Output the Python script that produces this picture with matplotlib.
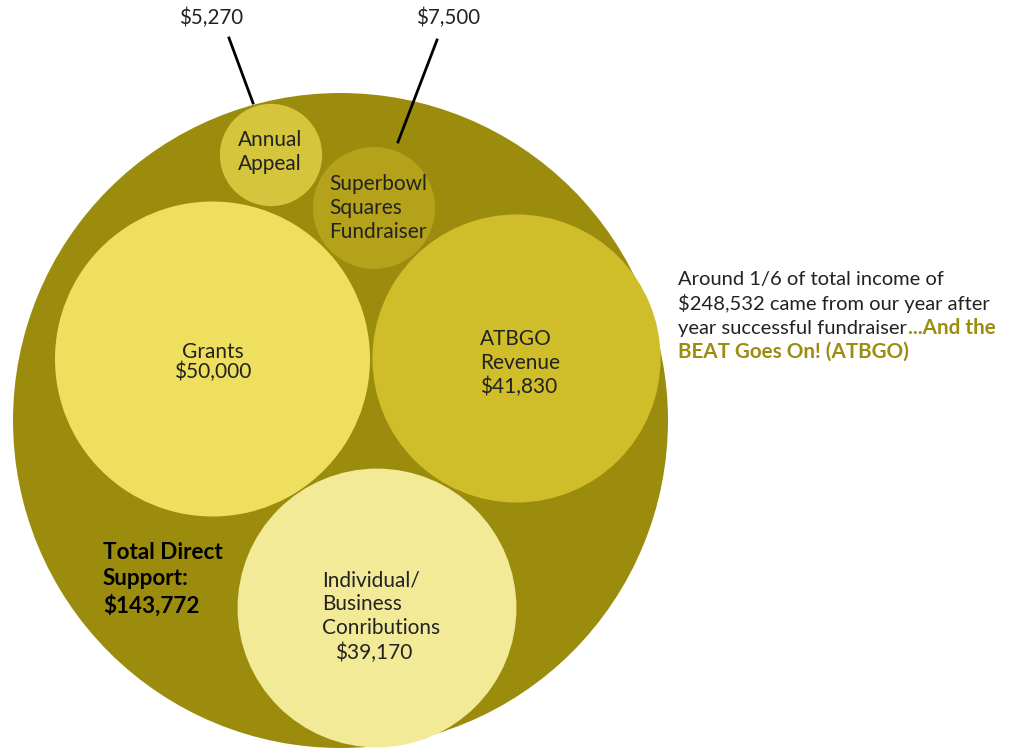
"""
Packed bubble chart: sources of direct support
"""

import numpy as np
from matplotlib import pyplot as plt
from matplotlib.patches import Circle

plt.rcParams['font.family'] = ['Lato', 'DejaVu Sans']

# data
names = ["Grants", "ATBGO Revenue", "Individual/Business Conributions",
         "Annual Appeal", "Superbowl Squares Fundraiser"]
values = [50000, 41830, 39170, 5270, 7500]
total_direct = 143772
total_income = 248532

# layout of the packed circles (pixel space, y down)
centers = [(212.5, 359), (516.5, 358.5), (377, 608), (271, 155), (374, 208)]
colors = ["#EEDF5E", "#CFBD29", "#F3EA97", "#D5C53C", "#B3A21A"]
OUTER_CENTER = (340.5, 420.5)
OUTER_R = 327.5
OUTER_COLOR = "#9C8C0E"
SCALE = 157.5 / np.sqrt(50000)

DARK = "#222222"
OLIVE = "#9C8C10"

fig = plt.figure(figsize=(10.1, 7.53), dpi=100)
ax = fig.add_axes([0, 0, 1, 1])
ax.set_xlim(0, 1010)
ax.set_ylim(753, 0)
ax.set_aspect('equal')
ax.axis('off')

ax.add_patch(Circle(OUTER_CENTER, OUTER_R, color=OUTER_COLOR, lw=0))
for (cx, cy), v, c in zip(centers, values, colors):
    ax.add_patch(Circle((cx, cy), SCALE * np.sqrt(v), color=c, lw=0))

fs = 15
ax.text(212.5, 362, f"Grants\n${values[0]:,}", ha='center', va='center',
        fontsize=fs, color=DARK, linespacing=1.03)
ax.text(480, 363, f"ATBGO\nRevenue\n${values[1]:,}", ha='left', va='center',
        fontsize=fs, color=DARK, linespacing=1.24)
ax.text(322, 604, "Individual/\nBusiness\nConributions", ha='left', va='center',
        fontsize=fs, color=DARK, linespacing=1.24)
ax.text(335, 653, f"${values[2]:,}", ha='left', va='center',
        fontsize=fs, color=DARK)
ax.text(238, 152, "Annual\nAppeal", ha='left', va='center',
        fontsize=fs, color=DARK, linespacing=1.2)
ax.text(329, 208, "Superbowl\nSquares\nFundraiser", ha='left', va='center',
        fontsize=fs, color=DARK, linespacing=1.26)

# callouts for small circles
ax.text(211, 18, f"${values[3]:,}", ha='center', va='center', fontsize=14.8, color=DARK)
ax.plot([229, 253], [38, 103], color='black', lw=2)
ax.text(448, 18, f"${values[4]:,}", ha='center', va='center', fontsize=14.8, color=DARK)
ax.plot([437, 398], [40, 142], color='black', lw=2)

ax.text(103, 579, f"Total Direct\nSupport:\n${total_direct:,}", ha='left', va='center',
        fontsize=16.2, fontweight='bold', color='black', linespacing=1.3)

# side note
note_x = 678
nfs = 14.5
ax.text(note_x, 279, "Around 1/6 of total income of", ha='left', va='center',
        fontsize=nfs, color=DARK)
ax.text(note_x, 303, f"${total_income:,} came from our year after", ha='left', va='center',
        fontsize=nfs, color=DARK)
t = ax.text(note_x, 328, "year successful fundraiser", ha='left', va='center',
            fontsize=nfs, color=DARK)
fig.canvas.draw()
bb = t.get_window_extent().transformed(ax.transData.inverted())
ax.text(bb.x1 + 1, 328, "...And the", ha='left', va='center',
        fontsize=14.9, fontweight='bold', color=OLIVE)
ax.text(note_x, 352, "BEAT Goes On! (ATBGO)", ha='left', va='center',
        fontsize=14.9, fontweight='bold', color=OLIVE)

fig.savefig("out.png", dpi=100, facecolor='white')
